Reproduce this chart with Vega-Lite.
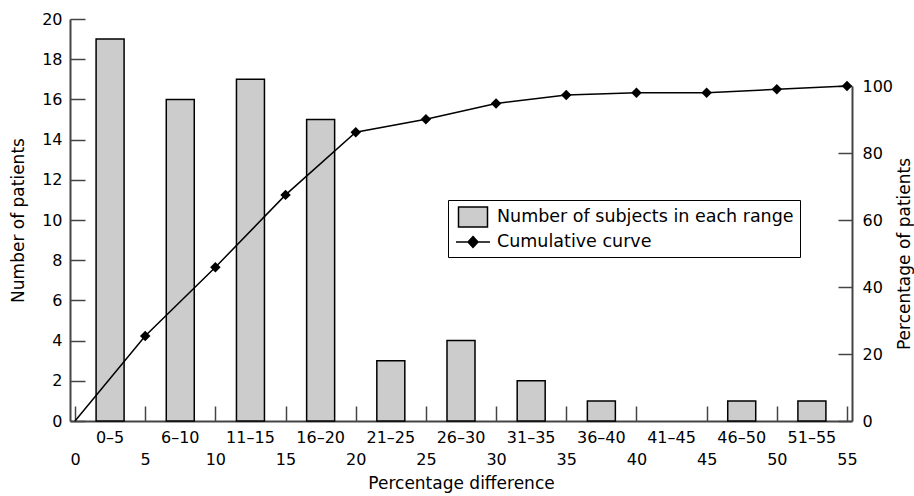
{
  "$schema": "https://vega.github.io/schema/vega-lite/v6.json",
  "width": 782,
  "height": 402,
  "autosize": {"type": "none"},
  "padding": {"left": 70, "top": 19, "right": 62, "bottom": 75},
  "background": "white",
  "config": {
    "view": {"stroke": null},
    "font": "DejaVu Sans",
    "axis": {
      "grid": false,
      "domainColor": "#444444",
      "domainWidth": 2,
      "tickColor": "#444444",
      "tickWidth": 1.5,
      "labelFont": "DejaVu Sans",
      "labelFontSize": 16,
      "labelColor": "black",
      "titleFont": "DejaVu Sans",
      "titleFontSize": 17,
      "titleFontWeight": "normal",
      "titleColor": "black"
    }
  },
  "datasets": {
    "bins": [
      {"range": "0–5", "mid": 2.5, "count": 19},
      {"range": "6–10", "mid": 7.5, "count": 16},
      {"range": "11–15", "mid": 12.5, "count": 17},
      {"range": "16–20", "mid": 17.5, "count": 15},
      {"range": "21–25", "mid": 22.5, "count": 3},
      {"range": "26–30", "mid": 27.5, "count": 4},
      {"range": "31–35", "mid": 32.5, "count": 2},
      {"range": "36–40", "mid": 37.5, "count": 1},
      {"range": "41–45", "mid": 42.5, "count": 0},
      {"range": "46–50", "mid": 47.5, "count": 1},
      {"range": "51–55", "mid": 52.5, "count": 1}
    ],
    "cum": [
      {"x": 0, "pct": 0},
      {"x": 5, "pct": 25.4},
      {"x": 10, "pct": 45.9},
      {"x": 15, "pct": 67.5},
      {"x": 20, "pct": 86.2},
      {"x": 25, "pct": 90.1},
      {"x": 30, "pct": 94.8},
      {"x": 35, "pct": 97.3},
      {"x": 40, "pct": 98.0},
      {"x": 45, "pct": 98.0},
      {"x": 50, "pct": 99.0},
      {"x": 55, "pct": 100}
    ]
  },
  "layer": [
    {
      "layer": [
        {
          "data": {"name": "bins"},
          "transform": [{"filter": "datum.count > 0"}],
          "mark": {"type": "bar", "size": 28, "stroke": "black", "strokeWidth": 1.5},
          "encoding": {
            "x": {
              "field": "mid",
              "type": "quantitative",
              "title": "Percentage difference",
              "scale": {"domain": [0, 55], "nice": false, "zero": false},
              "axis": {
                "values": [0, 5, 10, 15, 20, 25, 30, 35, 40, 45, 50, 55],
                "tickSize": -15,
                "labelPadding": 45,
                "labelFlush": false,
                "titlePadding": 8
              }
            },
            "y": {
              "field": "count",
              "type": "quantitative",
              "title": "Number of patients",
              "scale": {"domain": [0, 20], "nice": false},
              "axis": {
                "values": [0, 2, 4, 6, 8, 10, 12, 14, 16, 18, 20],
                "tickSize": -15,
                "labelPadding": 23,
                "titlePadding": 14
              }
            },
            "fill": {
              "datum": "Number of subjects in each range",
              "type": "nominal",
              "scale": {
                "domain": ["Number of subjects in each range", "Cumulative curve"],
                "range": ["#cccccc", "#000000"]
              },
              "legend": {
                "orient": "none",
                "legendX": 378,
                "legendY": 181,
                "title": null,
                "symbolSize": 400,
                "symbolOffset": 8,
                "symbolStrokeColor": "black",
                "symbolStrokeWidth": 1.5,
                "symbolOpacity": 1,
                "labelFont": "DejaVu Sans",
                "labelFontSize": 17.5,
                "labelColor": "black",
                "labelOffset": 13,
                "labelLimit": 500,
                "padding": 6,
                "rowPadding": 1,
                "strokeColor": "black",
                "fillColor": "white",
                "encode": {
                  "symbols": {
                    "update": {
                      "shape": {"signal": "datum.value === 'Cumulative curve' ? 'M-1.7,0L1.7,0M0,-0.55L0.5,0L0,0.55L-0.5,0Z' : 'M-1.45,-1H1.45V1H-1.45Z'"}
                    }
                  }
                }
              }
            }
          }
        },
        {
          "data": {"name": "bins"},
          "mark": {"type": "text", "baseline": "top", "dy": 9, "fontSize": 16, "font": "DejaVu Sans", "color": "black"},
          "encoding": {
            "x": {"field": "mid", "type": "quantitative", "title": "Percentage difference"},
            "y": {"datum": 0, "type": "quantitative", "title": "Number of patients"},
            "text": {"field": "range"}
          }
        }
      ]
    },
    {
      "data": {"name": "cum"},
      "encoding": {
        "x": {"field": "x", "type": "quantitative", "title": "Percentage difference"},
        "y": {
          "field": "pct",
          "type": "quantitative",
          "title": "Percentage of patients",
          "scale": {"domain": [0, 100], "range": [402, 67], "nice": false},
          "axis": {
            "orient": "right",
            "values": [0, 20, 40, 60, 80, 100],
            "tickSize": -14,
            "labelPadding": 24,
            "titlePadding": 4,
            "titleAngle": 270,
            "titleBaseline": "top"
          }
        }
      },
      "layer": [
        {"mark": {"type": "line", "color": "black", "strokeWidth": 1.5}},
        {
          "transform": [{"filter": "datum.x > 0"}],
          "mark": {"type": "point", "shape": "diamond", "filled": true, "size": 110, "color": "black", "opacity": 1}
        }
      ]
    }
  ],
  "resolve": {"scale": {"y": "independent"}}
}
